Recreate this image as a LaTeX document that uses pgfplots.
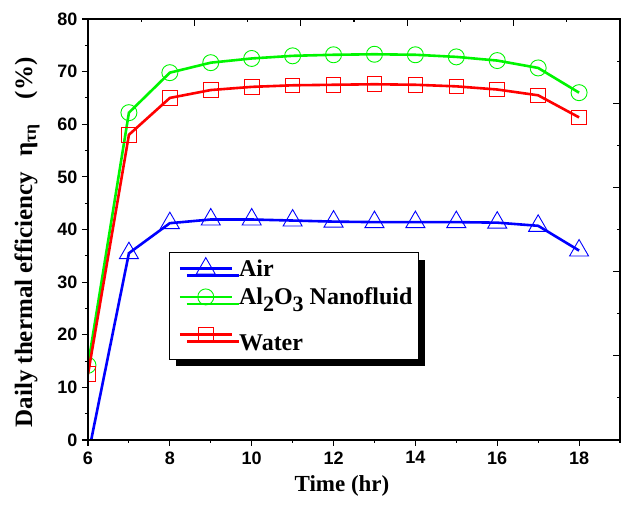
\documentclass[border=0pt]{standalone}
\usepackage{fontspec}
\setmainfont{Liberation Serif}
\setsansfont{Liberation Sans}
\usepackage{pgfplots}
\pgfplotsset{compat=1.18}
\usetikzlibrary{shadows}
\definecolor{cblue}{RGB}{0,0,255}
\definecolor{cgreen}{RGB}{0,245,0}
\definecolor{cred}{RGB}{255,0,0}
\begin{document}
\begin{tikzpicture}
\begin{axis}[
  name=main,
  scale only axis, width=532pt, height=421pt,
  xmin=6, xmax=19, ymin=0, ymax=80,
  xtick={6,8,...,18}, ytick={0,10,...,80},
  minor xtick={7,9,...,19}, minor ytick={5,15,...,75},
  xtick pos=left, ytick pos=left,
  tick align=outside,
  major tick length=6pt, minor tick length=3pt,
  axis line style={line width=1.2pt},
  every tick/.style={black, line width=1.1pt},
  tick label style={font=\fontsize{18}{20}\selectfont\sffamily\bfseries},
  /pgf/number format/assume math mode=true,
  yticklabel style={xshift=-1pt},
  xticklabel style={yshift=-2pt},
  xlabel={Time (hr)},
  ylabel={Daily thermal efficiency\hspace{0.6em}η\textsubscript{τη}\hspace{1em}(\%)},
  label style={font=\fontsize{23}{25}\selectfont\bfseries},
  xlabel style={yshift=-4pt, xshift=-12pt},
  ylabel style={font=\fontsize{25}{27}\selectfont\bfseries, yshift=11pt, xshift=-13pt},
  clip marker paths=true,
  legend cell align=left,
  legend style={at={(axis cs:7.98,35.7)}, anchor=north west, draw=black, line width=0.9pt,
    fill=white, font=\fontsize{24}{26}\selectfont\bfseries,
    inner xsep=4pt, inner ysep=5pt, row sep=6pt,
    drop shadow={shadow xshift=7pt, shadow yshift=-7pt, fill=black, opacity=1}},
  legend image code/.code={\path (0pt,0pt); \draw[mark repeat=2, mark phase=2, #1] plot coordinates {(5pt,0pt) (31pt,0pt) (57pt,0pt)}; \path (61pt,0pt);},
]
\addplot[cblue, line width=2.6pt, mark=triangle, mark size=11pt, mark options={fill=white, line width=0.9pt, solid}]
  coordinates {(6,-3) (7,35.5) (8,41.2) (9,41.9) (10,41.9) (11,41.7) (12,41.5) (13,41.4) (14,41.4) (15,41.4) (16,41.3) (17,40.7) (18,36.0)};
\addlegendentry{Air}
\addplot[cgreen, line width=2.6pt, mark=o, mark size=8pt, mark options={fill=white, line width=0.9pt, solid}]
  coordinates {(6,14.2) (7,62.2) (8,69.8) (9,71.7) (10,72.5) (11,73.0) (12,73.2) (13,73.3) (14,73.2) (15,72.8) (16,72.1) (17,70.7) (18,66.0)};
\addlegendentry{Al\raisebox{-0.3em}{\fontsize{22}{22}\selectfont 2}O\raisebox{-0.3em}{\fontsize{22}{22}\selectfont 3} Nanofluid}
\addplot[cred, line width=2.6pt, mark=square, mark size=7.3pt, mark options={fill=white, line width=0.9pt, solid}]
  coordinates {(6,12.5) (7,58.0) (8,65.0) (9,66.5) (10,67.1) (11,67.4) (12,67.5) (13,67.6) (14,67.5) (15,67.2) (16,66.6) (17,65.5) (18,61.3)};
\addlegendentry{\rule{0pt}{1.45em}Water}
\end{axis}
\begin{axis}[
  at={(main.south west)}, anchor=south west,
  scale only axis, width=532pt, height=421pt,
  xmin=0, xmax=5, ymin=0, ymax=5,
  xtick={0,...,5}, ytick={0,...,5},
  minor tick num=1,
  xtick pos=right, ytick pos=right,
  tick align=inside,
  major tick length=7pt, minor tick length=3.5pt,
  every tick/.style={black, line width=1.1pt},
  xticklabels={}, yticklabels={},
  axis line style={line width=1.2pt},
]
\end{axis}
\pgfresetboundingbox
\path ([xshift=-88pt,yshift=-75pt]main.south west) rectangle ([xshift=4pt,yshift=19pt]main.north east);
\end{tikzpicture}
\end{document}
